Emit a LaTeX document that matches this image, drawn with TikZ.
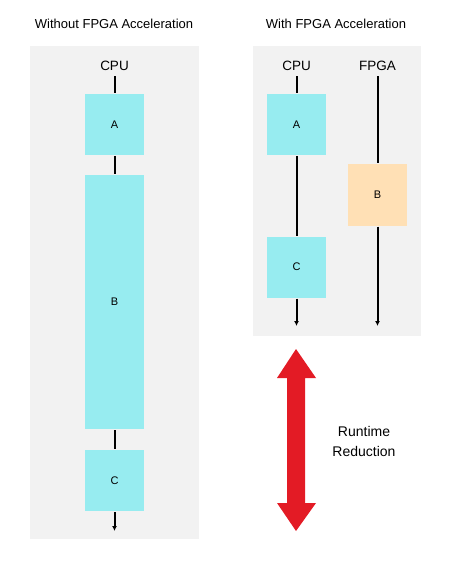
\documentclass[tikz,border=0pt]{standalone}
\usepackage{fontspec}
\setmainfont{Liberation Sans}
\usepackage{xcolor}
\usetikzlibrary{arrows.meta}
\definecolor{panelgray}{HTML}{F2F2F2}
\definecolor{cpucyan}{HTML}{97ECF0}
\definecolor{fpgaorange}{HTML}{FFE0B5}
\definecolor{gainred}{HTML}{E31B25}

\begin{document}
\begin{tikzpicture}[x=1pt, y=-1pt, line width=2pt,
  task node/.style={minimum width=59pt, minimum height=61pt, inner sep=0pt, fill=cpucyan, font=\fontsize{11}{13}\selectfont},
  unit node/.style={inner sep=4pt, anchor=base, font=\fontsize{13.5}{16}\selectfont},
  title node/.style={inner sep=0pt, anchor=base, font=\fontsize{13}{16}\selectfont},
  flow/.style={-{Latex[length=5pt,width=5pt]}}]
\useasboundingbox (0,0) rectangle (451,564);
\fill[panelgray] (30,46) rectangle (199,539);
\fill[panelgray] (253,46) rectangle (421,336);
\node[title node] (t1) at (114,29) {Without FPGA Acceleration};
\node[title node] (t2) at (336,29) {With FPGA Acceleration};
% without
\node[unit node] (cpu1) at (114.5,71) {CPU};
\node[task node] (a1) at (114.5,124.5) {A};
\node[task node, minimum height=254pt] (b1) at (114.5,302) {B};
\node[task node] (c1) at (114.5,480.5) {C};
\coordinate (end1) at (114.5,531);
% with
\node[unit node] (cpu2) at (296.5,71) {CPU};
\node[unit node] (fpga) at (377.5,71) {FPGA};
\node[task node] (a2) at (296.5,124.5) {A};
\node[task node, fill=fpgaorange] (b2) at (377.5,195) {B};
\node[task node] (c2) at (296.5,267) {C};
\coordinate (end2) at (296.5,326);
\coordinate (end3) at (377.5,326);
\path
(cpu1) edge (a1)
(a1) edge (b1)
(b1) edge (c1)
(c1) edge[flow] (end1)
(cpu2) edge (a2)
(a2) edge (c2)
(c2) edge[flow] (end2)
(fpga) edge (b2)
(b2) edge[flow] (end3);
% runtime gain
\fill[gainred] (296,349) -- (316,378) -- (305,378) -- (305,503) -- (316,503)
  -- (296,531) -- (277,503) -- (287,503) -- (287,378) -- (277,378) -- cycle;
\node[align=center, inner sep=0pt, font=\fontsize{14}{20}\selectfont] (gain) at (364,441) {Runtime\\Reduction};
\end{tikzpicture}
\end{document}
